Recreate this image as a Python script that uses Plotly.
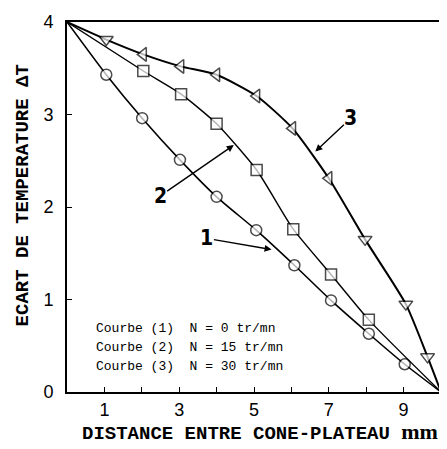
import plotly.graph_objects as go

# Curve 1 (circles), N = 0 tr/mn
x1 = [0, 1.05, 2.01, 3.02, 4.0, 5.06, 6.08, 7.06, 8.07, 9.03, 10]
y1 = [4.0, 3.43, 2.96, 2.51, 2.11, 1.75, 1.37, 0.99, 0.63, 0.30, 0.0]
# Curve 2 (squares), N = 15 tr/mn
x2 = [0, 2.04, 3.05, 4.0, 5.07, 6.05, 7.06, 8.07, 10]
y2 = [4.0, 3.47, 3.22, 2.90, 2.40, 1.76, 1.27, 0.78, 0.0]
# Curve 3 (triangles), N = 30 tr/mn
x3 = [0, 1.05, 2.04, 3.04, 4.0, 5.07, 6.03, 7.0, 7.97, 9.06, 9.64, 10]
y3 = [4.0, 3.81, 3.65, 3.52, 3.43, 3.20, 2.85, 2.31, 1.65, 0.95, 0.38, 0.0]
tri_symbols = ["circle", "triangle-down", "triangle-left", "triangle-left", "triangle-left",
               "triangle-left", "triangle-left", "triangle-left", "triangle-down",
               "triangle-down", "triangle-down", "circle"]

x_tickvals = [1, 2, 3, 4, 5, 6, 7, 8, 9]
x_ticktext = ["1", "", "3", "", "5", "", "7", "", "9"]
y_tickvals = [0, 1, 2, 3, 4]
y_ticktext = ["0", "1", "2", "3", "4"]

legend_lines = ["Courbe (1)  N = 0 tr/mn", "Courbe (2)  N = 15 tr/mn", "Courbe (3)  N = 30 tr/mn"]
curve_labels = ["1", "2", "3"]

def marker_sizes(n, s):
    return [0] + [s] * (n - 2) + [0]

fig = go.Figure()
fig.add_trace(go.Scatter(x=x1, y=y1, mode="lines+markers",
                         line=dict(color="black", width=1.6, shape="spline", smoothing=0.6),
                         marker=dict(symbol="circle", size=marker_sizes(len(x1), 11), color="white",
                                     line=dict(color="black", width=1.5)),
                         showlegend=False))
fig.add_trace(go.Scatter(x=x2, y=y2, mode="lines+markers",
                         line=dict(color="black", width=1.4, shape="spline", smoothing=0.6),
                         marker=dict(symbol="square", size=marker_sizes(len(x2), 11), color="white",
                                     line=dict(color="black", width=1.5)),
                         showlegend=False))
fig.add_trace(go.Scatter(x=x3, y=y3, mode="lines+markers",
                         line=dict(color="black", width=2, shape="spline", smoothing=0.6),
                         marker=dict(symbol=tri_symbols, size=marker_sizes(len(x3), 12), color="white",
                                     line=dict(color="black", width=1.5)),
                         showlegend=False))

label_font = dict(family="Liberation Sans Narrow, DejaVu Sans Condensed, Liberation Sans", size=21, color="black")
# arrows: (label position) -> (point on curve)
arrows = [
    dict(text=curve_labels[0], x=5.47, y=1.54, ax=3.74, ay=1.66),
    dict(text=curve_labels[1], x=4.46, y=2.67, ax=2.49, ay=2.12),
    dict(text=curve_labels[2], x=6.64, y=2.60, ax=7.59, ay=2.96),
]
for a in arrows:
    fig.add_annotation(x=a["x"], y=a["y"], ax=a["ax"], ay=a["ay"], xref="x", yref="y",
                       axref="x", ayref="y", text="<b>" + a["text"] + "</b>", showarrow=True,
                       arrowhead=2, arrowsize=1, arrowwidth=1.4, arrowcolor="black",
                       font=label_font, borderpad=0)

mono = "Liberation Mono, Courier New, monospace"
legend_y = [0.69, 0.485, 0.28]
for txt, yy in zip(legend_lines, legend_y):
    fig.add_annotation(x=0.72, y=yy, xref="x", yref="y", text=txt, showarrow=False,
                       xanchor="left", yanchor="middle",
                       font=dict(family=mono, size=13, color="black"))

fig.add_annotation(xref="paper", yref="paper", x=0.517, y=-0.108, xanchor="center", yanchor="middle",
                   showarrow=False,
                   text="<b>DISTANCE ENTRE CONE-PLATEAU </b><span style=\"font-family:'Liberation Serif';font-size:22px\"><b>mm</b></span>",
                   font=dict(family=mono, size=19, color="black"))
fig.add_annotation(xref="paper", yref="paper", x=-0.117, y=0.532, xanchor="center", yanchor="middle",
                   showarrow=False, textangle=-90,
                   text="<b>ECART DE TEMPERATURE ΔT</b>",
                   font=dict(family=mono, size=19, color="black"))

axis_common = dict(showline=True, linecolor="black", linewidth=2, mirror=True,
                   showgrid=False, zeroline=False, ticks="inside", ticklen=5,
                   tickwidth=1.2, tickcolor="black", ticklabeloverflow="allow",
                   tickfont=dict(family="Liberation Sans, Arial", size=18, color="black"))
fig.update_xaxes(range=[0, 10], tickvals=x_tickvals, ticktext=x_ticktext,
                 ticklabelstandoff=0, **axis_common)
fig.update_yaxes(range=[0, 4], tickvals=y_tickvals, ticktext=y_ticktext,
                 ticklabelstandoff=8, **axis_common)

# page body has an 8px margin, so offset the figure accordingly
fig.update_layout(width=439, height=441, margin=dict(l=59, r=4, t=7, b=57),
                  plot_bgcolor="white", paper_bgcolor="white")
fig.write_html("out.html")
